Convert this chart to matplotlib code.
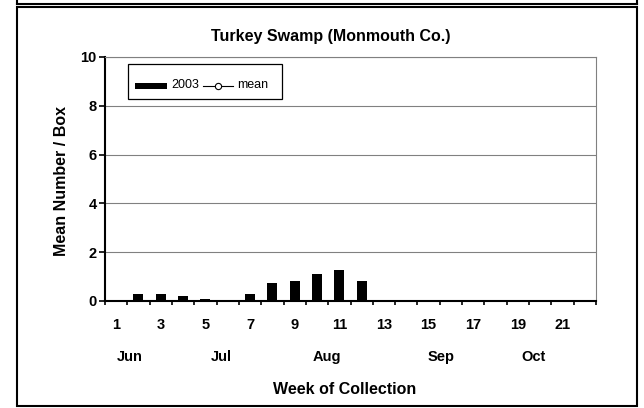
import numpy as np
import matplotlib.pyplot as plt
from matplotlib.patches import Rectangle
from matplotlib.lines import Line2D

plt.rcParams['font.family'] = ['Liberation Sans', 'DejaVu Sans']
plt.rcParams['font.weight'] = 'bold'

weeks = np.arange(1, 23)
counts_2003 = [0, 0.3, 0.3, 0.19, 0.1, 0, 0.3, 0.73, 0.82, 1.12, 1.29, 0.82,
               0, 0, 0, 0, 0, 0, 0, 0, 0, 0]
tick_weeks = [1, 3, 5, 7, 9, 11, 13, 15, 17, 19, 21]
months = ['Jun', 'Jul', 'Aug', 'Sep', 'Oct']
month_pos = [1.6, 5.7, 10.45, 15.55, 19.7]

W, H = 644, 408


def fx(px):
    return px / W


def fy(py):
    return 1 - py / H


fig = plt.figure(figsize=(6.44, 4.08), dpi=100)
ax = fig.add_axes([fx(105), fy(301), 491 / W, 244 / H])

ax.bar(weeks, counts_2003, width=0.45, color='black', zorder=3)

ax.set_xlim(0.5, 22.5)
ax.set_ylim(0, 10)
ax.set_yticks([0, 2, 4, 6, 8, 10])
ax.yaxis.grid(True, color='#808080', lw=0.8, zorder=0)
ax.set_xticks(np.arange(0.5, 23, 1))
ax.set_xticklabels([])
ax.tick_params(axis='x', direction='out', length=3, width=1.2)
ax.tick_params(axis='y', direction='out', length=4, width=1.2, labelsize=10.5,
               pad=2)
for w in tick_weeks:
    ax.text(w, -1.0, str(w), ha='center', va='center', fontsize=10.5,
            fontweight='bold')
for m, p in zip(months, month_pos):
    ax.text(p, -2.3, m, ha='center', va='center', fontsize=10.5,
            fontweight='bold')

ax.spines['left'].set_linewidth(1.5)
ax.spines['bottom'].set_linewidth(1.5)
ax.spines['top'].set_color('#808080')
ax.spines['right'].set_color('#808080')

fig.text(fx(331), fy(36), 'Turkey Swamp (Monmouth Co.)', ha='center',
         va='center', fontsize=11.5, fontweight='bold')
fig.text(fx(62), fy(181), 'Mean Number / Box', ha='center', va='center',
         rotation=90, fontsize=11.5, fontweight='bold')
fig.text(fx(345), fy(390), 'Week of Collection', ha='center', va='center',
         fontsize=11.5, fontweight='bold')

# legend box drawn by hand to match the small patch and short line
fig.patches.append(Rectangle((fx(128), fy(99)), 154 / W, 35 / H,
                             transform=fig.transFigure, facecolor='white',
                             edgecolor='black', lw=0.9, zorder=5))
fig.patches.append(Rectangle((fx(135), fy(88.5)), 32 / W, 6 / H,
                             transform=fig.transFigure, facecolor='black',
                             edgecolor='none', zorder=6))
fig.text(fx(171), fy(85.5), '2003', ha='left', va='center', fontsize=9,
         fontweight='normal', zorder=6)
fig.lines.append(Line2D([fx(203), fx(233)], [fy(85.5), fy(85.5)],
                        transform=fig.transFigure, color='black', lw=0.8,
                        zorder=6))
fig.lines.append(Line2D([fx(218)], [fy(85.5)], transform=fig.transFigure,
                        marker='o', ms=4.5, mfc='white', mec='black', mew=0.8,
                        zorder=7))
fig.text(fx(237), fy(85.5), 'mean', ha='left', va='center', fontsize=9,
         fontweight='normal', zorder=6)

# outer chart frames
fig.patches.append(Rectangle((fx(17), fy(406)), 620 / W, 399 / H,
                             transform=fig.transFigure, fill=False,
                             edgecolor='black', lw=1.5))
fig.lines.append(Line2D([fx(17), fx(637)], [fy(4), fy(4)],
                        transform=fig.transFigure, color='black', lw=1.5))
fig.lines.append(Line2D([fx(17), fx(17)], [fy(4), 1],
                        transform=fig.transFigure, color='black', lw=1.5))
fig.lines.append(Line2D([fx(637), fx(637)], [fy(4), 1],
                        transform=fig.transFigure, color='black', lw=1.5))

fig.savefig('out.png', dpi=100)
